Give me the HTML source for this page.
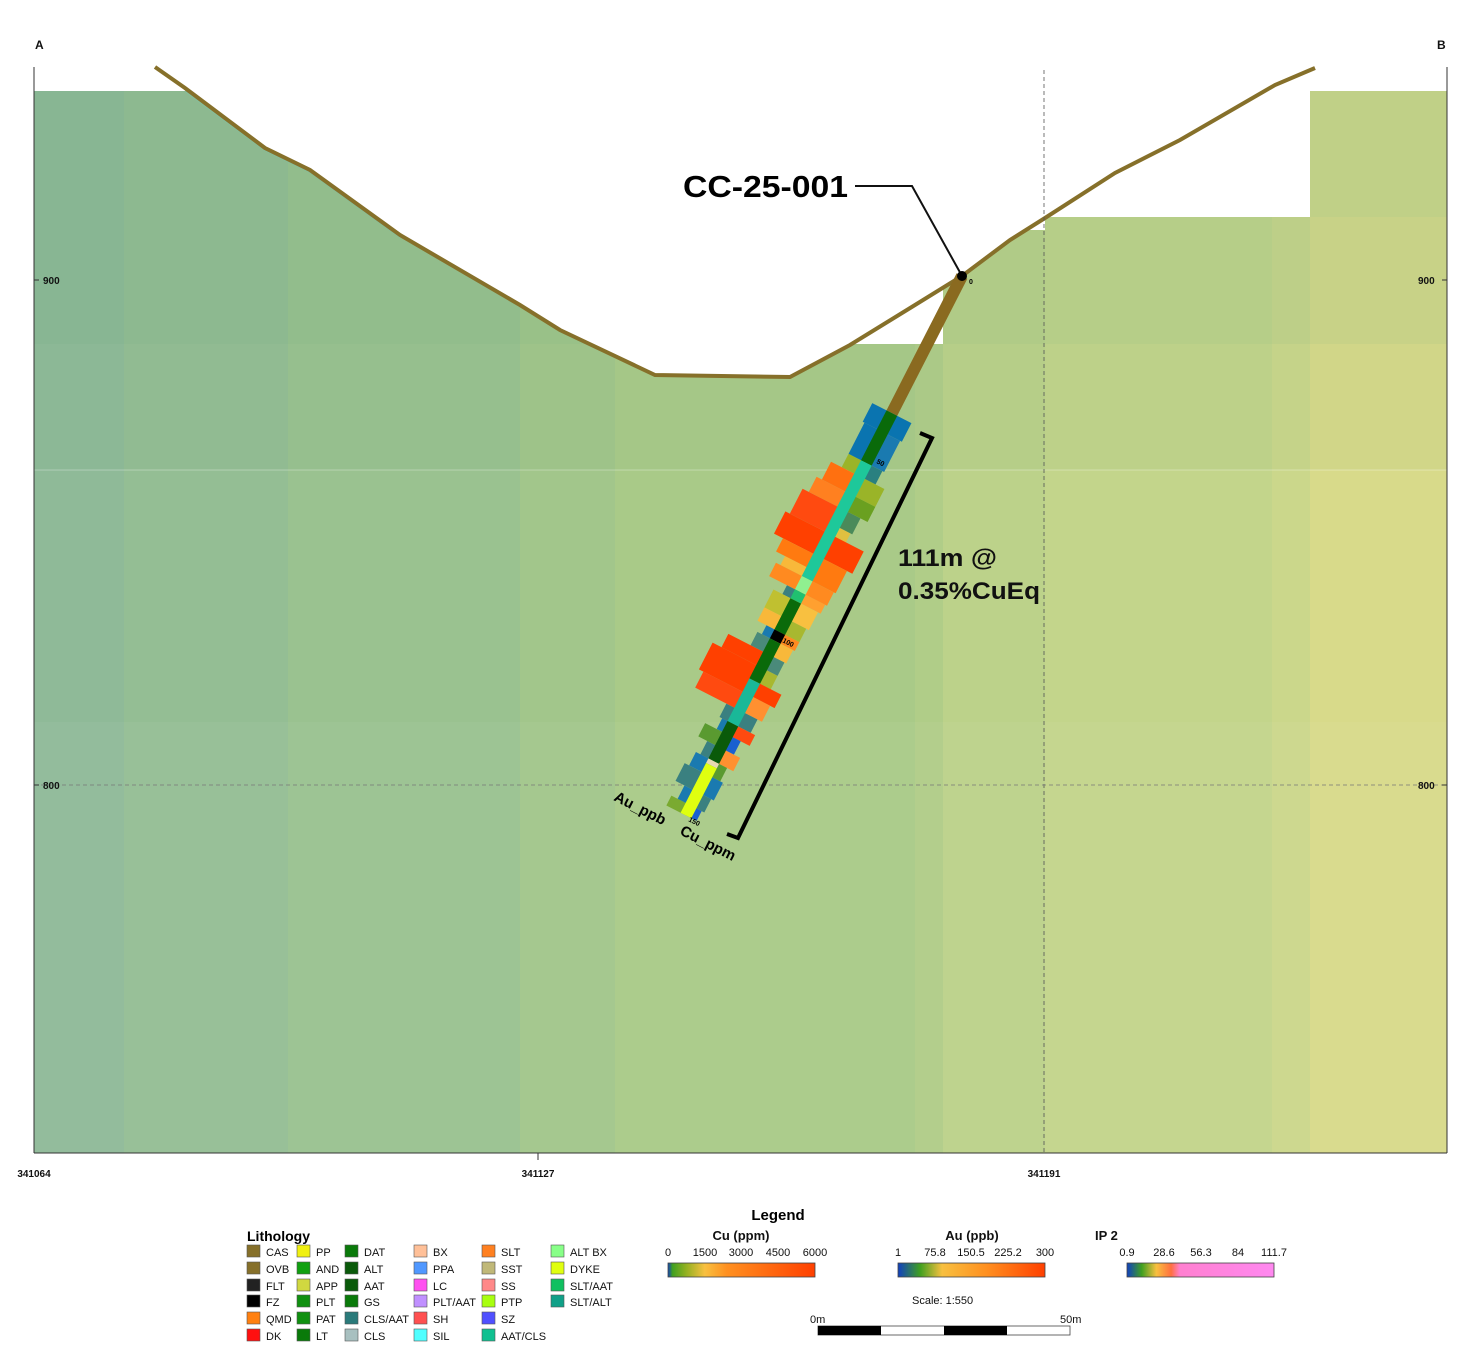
<!DOCTYPE html>
<html><head><meta charset="utf-8"><style>
html,body{margin:0;padding:0;background:#fff}
svg{display:block;font-family:"Liberation Sans",sans-serif}
</style></head><body>
<svg width="1463" height="1372" viewBox="0 0 1463 1372" xmlns="http://www.w3.org/2000/svg">
<!-- background blocks -->
<g>
<rect x="34" y="91" width="90" height="1062" fill="#8fba98"/>
<rect x="124" y="91" width="164" height="1062" fill="#94be94"/>
<rect x="288" y="91" width="232" height="1062" fill="#9ac290"/>
<rect x="520" y="300" width="95" height="853" fill="#a2c68b"/>
<rect x="615" y="300" width="300" height="853" fill="#a9ca88"/>
<rect x="915" y="300" width="28" height="853" fill="#b0cd88"/>
<rect x="943" y="230" width="102" height="923" fill="#bcd28a"/>
<rect x="1045" y="217" width="227" height="936" fill="#c3d58b"/>
<rect x="1272" y="217" width="38" height="936" fill="#cbd78b"/>
<rect x="1310" y="91" width="137" height="1062" fill="#cfd88a"/>
<rect x="1310" y="217" width="137" height="936" fill="#d9db8a" opacity="0.8"/>
<rect x="34" y="91" width="1413" height="253" fill="#5a9a70" opacity="0.12"/>
<rect x="34" y="344" width="1413" height="126" fill="#6a9a70" opacity="0.06"/>
<rect x="34" y="722" width="1413" height="431" fill="#fff" opacity="0.04"/>
<line x1="34" y1="470" x2="1447" y2="470" stroke="#fff" stroke-opacity="0.3"/>
</g>
<rect x="943" y="60" width="102" height="170" fill="#fff"/>
<rect x="1045" y="60" width="265" height="157" fill="#fff"/>
<!-- white sky above topography -->
<polygon fill="#fff" points="0,0 1463,0 1463,60 1315,68 1275,85 1180,140 1115,173 1045,218 1010,240 962,276 915,305 850,345 790,377 655,375 560,330 520,305 400,235 310,170 265,148 185,88 155,67 0,60"/>
<polygon fill="#fff" points="850,345 915,305 943,288 943,344 850,344"/>
<rect x="1447" y="60" width="16" height="1100" fill="#fff"/>
<polyline fill="none" stroke="#86be9c" stroke-width="2" points="185,91 265,150 310,172 400,237"/>
<polyline fill="none" stroke="#86702a" stroke-width="4" points="155,67 185,88 265,148 310,170 400,235 520,305 560,330 655,375 790,377 850,345 915,305 962,276 1010,240 1045,218 1115,173 1180,140 1275,85 1315,68"/>
<!-- axes -->
<line x1="34" y1="67" x2="34" y2="1153" stroke="#333" stroke-width="1"/>
<line x1="1447" y1="67" x2="1447" y2="1153" stroke="#333" stroke-width="1"/>
<line x1="34" y1="1153" x2="1447" y2="1153" stroke="#333" stroke-width="1"/>
<line x1="1044" y1="70" x2="1044" y2="1153" stroke="#555" stroke-dasharray="4,3" stroke-width="0.8"/>
<line x1="34" y1="785" x2="1447" y2="785" stroke="#777" stroke-dasharray="4,3" stroke-width="0.8"/>
<line x1="538" y1="1153" x2="538" y2="1160" stroke="#333"/>
<line x1="34" y1="280" x2="39" y2="280" stroke="#333"/><line x1="34" y1="785" x2="39" y2="785" stroke="#333"/>
<line x1="1442" y1="280" x2="1447" y2="280" stroke="#333"/><line x1="1442" y1="785" x2="1447" y2="785" stroke="#333"/>
<g font-size="10" font-weight="bold" fill="#111">
<text x="35" y="49" font-size="12">A</text>
<text x="1437" y="49" font-size="12">B</text>
<text x="43" y="284">900</text><text x="1418" y="284">900</text>
<text x="43" y="789">800</text><text x="1418" y="789">800</text>
<text x="34" y="1177" text-anchor="middle">341064</text>
<text x="538" y="1177" text-anchor="middle">341127</text>
<text x="1044" y="1177" text-anchor="middle">341191</text>
</g>
<!-- drillhole -->
<g transform="translate(962,276) rotate(117.1)">
<rect x="0" y="-6" width="154" height="12" fill="#8a6a20"/>
<g>
<rect x="154" y="0" width="21" height="22" fill="#0a74b0"/>
<rect x="175" y="0" width="35" height="20" fill="#0a74b0"/>
<rect x="210" y="0" width="15" height="20" fill="#9ab428"/>
<rect x="225" y="0" width="20" height="32" fill="#ff7010"/>
<rect x="245" y="0" width="17" height="38" fill="#ff8020"/>
<rect x="262" y="0" width="28" height="45" fill="#ff4a10"/>
<rect x="290" y="0" width="25" height="50" fill="#ff4000"/>
<rect x="315" y="0" width="15" height="40" fill="#ff7a10"/>
<rect x="330" y="0" width="10" height="30" fill="#f8b83a"/>
<rect x="340" y="0" width="15" height="35" fill="#ff8a20"/>
<rect x="355" y="0" width="10" height="15" fill="#3a8080"/>
<rect x="365" y="0" width="20" height="25" fill="#c0c030"/>
<rect x="385" y="0" width="15" height="25" fill="#f8b83a"/>
<rect x="400" y="0" width="10" height="15" fill="#1a7ab0"/>
<rect x="410" y="0" width="15" height="20" fill="#4a8a7a"/>
<rect x="425" y="0" width="15" height="45" fill="#ff4000"/>
<rect x="440" y="0" width="30" height="55" fill="#ff4000"/>
<rect x="470" y="0" width="18" height="50" fill="#ff4a10"/>
<rect x="488" y="0" width="15" height="15" fill="#3a8080"/>
<rect x="503" y="0" width="12" height="12" fill="#1a7ab0"/>
<rect x="515" y="0" width="15" height="25" fill="#5a9a30"/>
<rect x="530" y="0" width="15" height="15" fill="#3a8080"/>
<rect x="545" y="0" width="15" height="20" fill="#1a7ab0"/>
<rect x="560" y="0" width="20" height="25" fill="#3a8080"/>
<rect x="580" y="0" width="15" height="15" fill="#1a7ab0"/>
<rect x="595" y="0" width="11" height="22" fill="#7aaa30"/>
</g>
<g>
<rect x="154" y="-22" width="21" height="22" fill="#0a74b0"/>
<rect x="175" y="-20" width="35" height="20" fill="#1a7ab0"/>
<rect x="210" y="-18" width="15" height="18" fill="#2a8080"/>
<rect x="225" y="-28" width="20" height="28" fill="#9ab428"/>
<rect x="245" y="-28" width="17" height="28" fill="#6aa020"/>
<rect x="262" y="-20" width="18" height="20" fill="#4a8a5a"/>
<rect x="280" y="-18" width="10" height="18" fill="#e0c040"/>
<rect x="290" y="-38" width="25" height="38" fill="#ff4000"/>
<rect x="315" y="-32" width="25" height="32" fill="#ff7a10"/>
<rect x="340" y="-30" width="15" height="30" fill="#ff8a20"/>
<rect x="355" y="-28" width="10" height="28" fill="#ffa030"/>
<rect x="365" y="-25" width="20" height="25" fill="#f8c040"/>
<rect x="385" y="-22" width="15" height="22" fill="#a8b830"/>
<rect x="400" y="-22" width="10" height="22" fill="#ff8a20"/>
<rect x="410" y="-20" width="15" height="20" fill="#f8b83a"/>
<rect x="425" y="-18" width="15" height="18" fill="#4a8a7a"/>
<rect x="440" y="-18" width="15" height="18" fill="#a8b830"/>
<rect x="455" y="-30" width="15" height="30" fill="#ff4000"/>
<rect x="470" y="-25" width="18" height="25" fill="#ff9030"/>
<rect x="488" y="-20" width="15" height="20" fill="#3a8080"/>
<rect x="503" y="-25" width="12" height="25" fill="#ff4a10"/>
<rect x="515" y="-15" width="15" height="15" fill="#1a60d0"/>
<rect x="530" y="-22" width="15" height="22" fill="#ff9030"/>
<rect x="545" y="-15" width="15" height="15" fill="#5a9a30"/>
<rect x="560" y="-18" width="20" height="18" fill="#1a7ab0"/>
<rect x="580" y="-15" width="15" height="15" fill="#3a8080"/>
<rect x="595" y="-12" width="11" height="12" fill="#1a60d0"/>
</g>
<g>
<rect x="154" y="-6" width="56" height="12" fill="#0a6a0a"/>
<rect x="210" y="-6" width="130" height="12" fill="#1ec89a"/>
<rect x="340" y="-6" width="15" height="12" fill="#90f090"/>
<rect x="355" y="-6" width="10" height="12" fill="#20c070"/>
<rect x="365" y="-6" width="35" height="12" fill="#0a6a0a"/>
<rect x="400" y="-6" width="10" height="12" fill="#000"/>
<rect x="410" y="-6" width="45" height="12" fill="#0a6a0a"/>
<rect x="455" y="-6" width="48" height="12" fill="#1ab898"/>
<rect x="503" y="-6" width="42" height="12" fill="#0a5a0a"/>
<rect x="545" y="-6" width="5" height="12" fill="#e8d8b0"/>
<rect x="550" y="-6" width="56" height="12" fill="#e0ff10"/>
</g>
</g>
<text x="876" y="463" font-size="7" font-weight="bold" transform="rotate(27 876 463)">50</text>
<text x="782" y="642" font-size="7" font-weight="bold" transform="rotate(27 782 642)">100</text>
<text x="688" y="821" font-size="7" font-weight="bold" transform="rotate(27 688 821)">150</text>
<text x="969" y="284" font-size="7" font-weight="bold">0</text>
<!-- collar & label -->
<polyline fill="none" stroke="#111" stroke-width="2" points="855,186 912,186 962,276"/>
<circle cx="962" cy="276" r="5" fill="#000"/>
<text x="683" y="197" font-size="31" font-weight="bold" fill="#000" textLength="165" lengthAdjust="spacingAndGlyphs">CC-25-001</text>
<!-- bracket -->
<polyline fill="none" stroke="#000" stroke-width="4" points="920,433 932,438 738,838 727,834"/>
<text x="898" y="566" font-size="24" font-weight="bold" fill="#111" textLength="99" lengthAdjust="spacingAndGlyphs">111m @</text>
<text x="898" y="599" font-size="24" font-weight="bold" fill="#111" textLength="142" lengthAdjust="spacingAndGlyphs">0.35%CuEq</text>
<text x="613" y="800" font-size="15" font-weight="bold" transform="rotate(27 613 800)">Au_ppb</text>
<text x="679" y="834" font-size="15" font-weight="bold" transform="rotate(27 679 834)">Cu_ppm</text>
<!-- legend -->
<text x="778" y="1220" font-size="15" font-weight="bold" text-anchor="middle">Legend</text>
<text x="247" y="1241" font-size="14" font-weight="bold">Lithology</text>
<g font-size="11" fill="#111" stroke="#555" stroke-width="0.6">
<g transform="translate(247,1245)">
<rect y="0" width="13" height="12" fill="#86702a"/><rect y="17" width="13" height="12" fill="#86702a"/><rect y="34" width="13" height="12" fill="#222"/><rect y="50" width="13" height="12" fill="#000"/><rect y="67" width="13" height="12" fill="#ff8010"/><rect y="84" width="13" height="12" fill="#ff1010"/>
</g>
<g transform="translate(297,1245)">
<rect y="0" width="13" height="12" fill="#f0f010"/><rect y="17" width="13" height="12" fill="#10a010"/><rect y="34" width="13" height="12" fill="#d0d840"/><rect y="50" width="13" height="12" fill="#109010"/><rect y="67" width="13" height="12" fill="#109010"/><rect y="84" width="13" height="12" fill="#0a7a0a"/>
</g>
<g transform="translate(345,1245)">
<rect y="0" width="13" height="12" fill="#0a7a0a"/><rect y="17" width="13" height="12" fill="#0a5a0a"/><rect y="34" width="13" height="12" fill="#0a5a0a"/><rect y="50" width="13" height="12" fill="#0a7a0a"/><rect y="67" width="13" height="12" fill="#2a7a7a"/><rect y="84" width="13" height="12" fill="#a8c0c0"/>
</g>
<g transform="translate(414,1245)">
<rect y="0" width="13" height="12" fill="#ffc098"/><rect y="17" width="13" height="12" fill="#5098ff"/><rect y="34" width="13" height="12" fill="#ff50f0"/><rect y="50" width="13" height="12" fill="#c090ff"/><rect y="67" width="13" height="12" fill="#ff5050"/><rect y="84" width="13" height="12" fill="#50ffff"/>
</g>
<g transform="translate(482,1245)">
<rect y="0" width="13" height="12" fill="#ff8020"/><rect y="17" width="13" height="12" fill="#c0b878"/><rect y="34" width="13" height="12" fill="#ff8888"/><rect y="50" width="13" height="12" fill="#a8ff10"/><rect y="67" width="13" height="12" fill="#5050ff"/><rect y="84" width="13" height="12" fill="#10c090"/>
</g>
<g transform="translate(551,1245)">
<rect y="0" width="13" height="12" fill="#88ff88"/><rect y="17" width="13" height="12" fill="#e0ff10"/><rect y="34" width="13" height="12" fill="#10c060"/><rect y="50" width="13" height="12" fill="#10a088"/>
</g>
</g>
<g font-size="11" fill="#111">
<text x="266" y="1256">CAS</text><text x="266" y="1273">OVB</text><text x="266" y="1290">FLT</text><text x="266" y="1306">FZ</text><text x="266" y="1323">QMD</text><text x="266" y="1340">DK</text>
<text x="316" y="1256">PP</text><text x="316" y="1273">AND</text><text x="316" y="1290">APP</text><text x="316" y="1306">PLT</text><text x="316" y="1323">PAT</text><text x="316" y="1340">LT</text>
<text x="364" y="1256">DAT</text><text x="364" y="1273">ALT</text><text x="364" y="1290">AAT</text><text x="364" y="1306">GS</text><text x="364" y="1323">CLS/AAT</text><text x="364" y="1340">CLS</text>
<text x="433" y="1256">BX</text><text x="433" y="1273">PPA</text><text x="433" y="1290">LC</text><text x="433" y="1306">PLT/AAT</text><text x="433" y="1323">SH</text><text x="433" y="1340">SIL</text>
<text x="501" y="1256">SLT</text><text x="501" y="1273">SST</text><text x="501" y="1290">SS</text><text x="501" y="1306">PTP</text><text x="501" y="1323">SZ</text><text x="501" y="1340">AAT/CLS</text>
<text x="570" y="1256">ALT BX</text><text x="570" y="1273">DYKE</text><text x="570" y="1290">SLT/AAT</text><text x="570" y="1306">SLT/ALT</text>
</g>
<defs>
<linearGradient id="gcu" x1="0" x2="1"><stop offset="0" stop-color="#1040c0"/><stop offset="0.03" stop-color="#40a020"/><stop offset="0.12" stop-color="#90b020"/><stop offset="0.25" stop-color="#f8c040"/><stop offset="0.4" stop-color="#ff9020"/><stop offset="1" stop-color="#ff4000"/></linearGradient>
<linearGradient id="gau" x1="0" x2="1"><stop offset="0" stop-color="#1040c0"/><stop offset="0.15" stop-color="#40a020"/><stop offset="0.3" stop-color="#f8c040"/><stop offset="0.6" stop-color="#ff9020"/><stop offset="1" stop-color="#ff4000"/></linearGradient>
<linearGradient id="gip" x1="0" x2="1"><stop offset="0" stop-color="#1040c0"/><stop offset="0.1" stop-color="#40a020"/><stop offset="0.2" stop-color="#f8c040"/><stop offset="0.3" stop-color="#ff7040"/><stop offset="0.36" stop-color="#ff80d0"/><stop offset="1" stop-color="#ff88f0"/></linearGradient>
</defs>
<g font-size="11" fill="#111">
<text x="741" y="1240" font-size="13" font-weight="bold" text-anchor="middle">Cu (ppm)</text>
<rect x="668" y="1263" width="147" height="14" fill="url(#gcu)" stroke="#444" stroke-width="0.8"/>
<text x="668" y="1256" text-anchor="middle">0</text><text x="705" y="1256" text-anchor="middle">1500</text><text x="741" y="1256" text-anchor="middle">3000</text><text x="778" y="1256" text-anchor="middle">4500</text><text x="815" y="1256" text-anchor="middle">6000</text>
<text x="972" y="1240" font-size="13" font-weight="bold" text-anchor="middle">Au (ppb)</text>
<rect x="898" y="1263" width="147" height="14" fill="url(#gau)" stroke="#444" stroke-width="0.8"/>
<text x="898" y="1256" text-anchor="middle">1</text><text x="935" y="1256" text-anchor="middle">75.8</text><text x="971" y="1256" text-anchor="middle">150.5</text><text x="1008" y="1256" text-anchor="middle">225.2</text><text x="1045" y="1256" text-anchor="middle">300</text>
<text x="1095" y="1240" font-size="13" font-weight="bold">IP 2</text>
<rect x="1127" y="1263" width="147" height="14" fill="url(#gip)" stroke="#444" stroke-width="0.8"/>
<text x="1127" y="1256" text-anchor="middle">0.9</text><text x="1164" y="1256" text-anchor="middle">28.6</text><text x="1201" y="1256" text-anchor="middle">56.3</text><text x="1238" y="1256" text-anchor="middle">84</text><text x="1274" y="1256" text-anchor="middle">111.7</text>
<text x="912" y="1304">Scale: 1:550</text>
<text x="810" y="1323">0m</text><text x="1060" y="1323">50m</text>
<rect x="818" y="1326" width="252" height="9" fill="#fff" stroke="#444" stroke-width="0.8"/>
<rect x="818" y="1326" width="63" height="9" fill="#000"/>
<rect x="944" y="1326" width="63" height="9" fill="#000"/>
</g>
</svg>
</body></html>
